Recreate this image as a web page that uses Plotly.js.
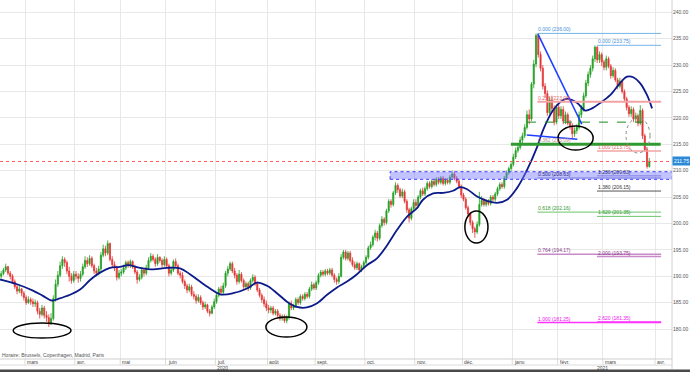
<!DOCTYPE html>
<html><head><meta charset="utf-8">
<script src="https://cdn.plot.ly/plotly-3.0.1.min.js"></script>
<style>html,body{margin:0;padding:0;background:#fff;}#chart{width:690px;height:372px;}</style>
</head><body><div id="chart"></div>
<script>
// ---- data (daily candles, trading-day index 0 = 14 Feb 2020) ----
const firstOpen = 190.0;
const closes = [
190.5,191.2,191.8,190.6,190.0,189.0,188.0,187.2,187.6,186.8,186.0,
185.0,185.6,185.2,184.8,185.0,183.4,182.8,184.0,182.6,182.2,181.0,182.0,185.8,188.5,190.2,192.0,193.2,192.6,191.0,190.0,189.2,190.4,
190.0,189.6,190.4,191.8,193.0,192.4,193.4,192.0,191.0,190.6,191.4,194.0,195.2,194.4,196.2,193.2,192.2,191.6,189.8,190.6,
190.8,191.6,192.6,192.0,192.8,191.8,190.8,189.4,189.8,191.2,190.6,191.6,193.0,193.8,193.2,192.4,193.6,193.0,192.2,193.2,
192.0,190.6,191.2,192.8,192.0,190.6,190.2,189.0,188.2,187.4,188.0,186.6,186.2,185.4,186.0,185.0,184.2,184.6,183.4,183.0,184.2,185.2,
186.4,187.6,187.0,188.2,190.6,191.4,192.4,191.0,190.2,189.0,190.4,189.2,188.0,188.6,187.8,189.2,189.8,188.6,187.4,186.4,185.6,184.8,184.0,
183.6,184.0,183.0,183.4,182.6,182.0,182.4,181.6,182.2,184.8,184.0,184.4,185.6,185.0,186.2,185.8,186.6,186.2,187.6,188.4,187.8,
188.8,190.2,190.8,190.4,191.0,190.6,191.2,190.2,189.4,189.0,190.0,193.6,194.6,193.4,194.4,193.0,192.2,191.6,192.4,191.2,191.8,192.6,
193.6,195.4,196.0,197.4,198.2,197.2,199.6,200.8,200.2,202.4,204.2,203.6,205.8,207.2,206.4,205.2,206.0,204.2,202.6,201.0,202.8,204.0,
203.4,205.0,206.2,205.6,206.6,207.6,207.0,208.0,207.4,208.4,207.8,208.6,207.6,208.2,207.8,208.8,209.4,208.6,208.0,207.0,205.4,
204.6,203.0,201.8,200.2,199.0,198.4,199.8,203.6,204.4,203.6,204.2,203.8,205.0,204.6,205.6,206.6,207.4,207.0,208.6,209.6,210.4,211.2,
212.6,213.8,214.4,215.8,216.6,218.2,220.6,219.8,226.4,230.2,235.6,232.0,229.4,226.0,224.6,221.0,223.4,221.8,219.2,222.0,
220.4,221.6,219.4,220.6,219.0,218.4,217.0,217.6,218.2,220.6,221.8,224.2,226.6,228.2,229.4,231.2,233.4,231.0,232.0,230.6,
229.6,231.2,229.8,228.0,229.0,227.2,226.0,227.0,225.0,223.6,222.0,220.8,221.6,219.8,220.4,219.0,221.4,216.6,214.0,210.8,211.75
];
const highs = [
191.0,191.6,192.4,192.0,191.0,190.4,189.4,188.4,188.2,187.8,187.2,
186.4,186.2,186.0,185.8,185.6,185.4,184.0,184.6,184.4,183.4,182.8,183.0,186.4,189.4,191.0,192.8,193.8,193.6,193.0,191.8,190.6,191.0,
191.0,190.6,191.0,192.4,193.8,193.6,194.0,193.8,192.4,191.6,192.0,194.6,196.0,195.8,196.8,196.4,193.8,192.8,192.0,191.2,
191.4,192.2,193.0,193.0,193.2,193.0,192.2,191.2,190.4,191.8,191.6,192.2,193.6,194.4,194.2,193.6,194.2,193.8,193.4,193.8,
193.6,192.4,191.8,193.2,193.4,192.4,191.0,190.8,189.4,188.6,188.6,188.4,187.2,186.6,186.6,186.4,185.4,185.2,184.8,183.8,184.6,185.8,
186.8,188.0,188.2,188.8,191.0,192.0,192.8,192.8,191.6,190.6,191.2,190.8,189.6,189.0,189.0,189.6,190.4,190.2,189.0,187.8,186.8,186.2,185.4,
184.6,184.4,184.4,183.8,183.8,183.0,182.8,182.8,182.6,185.2,185.4,184.8,186.0,186.0,186.6,186.6,187.0,187.0,188.0,189.0,188.8,
189.2,190.6,191.2,191.2,191.4,191.4,191.6,191.6,190.6,189.8,190.6,194.2,195.0,195.0,194.8,194.8,193.6,192.8,192.8,192.6,192.2,193.0,
194.0,195.8,196.6,197.8,198.8,198.6,200.0,201.4,201.2,202.8,204.6,204.6,206.2,207.8,207.6,206.8,206.6,206.4,204.6,203.0,203.2,204.6,
204.6,205.4,206.6,206.8,207.0,208.0,208.0,208.4,208.4,208.8,208.8,209.0,209.0,208.6,208.6,209.2,210.0,209.8,209.0,208.4,207.4,
205.8,205.0,203.4,202.2,200.6,199.4,200.4,206.0,205.2,204.8,204.6,204.6,205.4,205.4,206.0,207.0,207.8,207.8,209.0,210.0,210.8,211.6,
213.2,214.4,215.2,216.4,217.2,218.8,221.4,221.6,226.8,231.0,236.0,235.8,232.6,230.0,226.6,225.2,224.0,224.2,222.4,222.6,
222.6,222.2,222.2,221.2,221.0,219.6,219.0,218.2,218.8,221.2,222.4,224.8,227.2,228.8,230.0,231.8,233.75,233.6,232.6,232.4,
231.0,231.8,231.6,230.2,229.6,229.4,227.6,227.6,227.4,225.4,224.0,222.4,222.2,222.0,221.0,220.8,222.4,221.8,217.0,214.4,212.4
];
const lows = [
189.6,190.2,190.8,190.2,189.4,188.6,187.6,186.6,186.8,186.2,185.4,
184.6,184.8,184.6,184.2,184.2,182.8,182.0,182.4,182.0,181.4,180.4,180.8,181.6,185.2,188.0,189.8,191.4,191.8,190.4,189.0,188.6,188.8,
189.4,188.8,189.0,190.0,191.4,191.8,192.0,191.6,190.4,190.0,190.2,191.0,193.6,193.8,194.0,192.8,191.6,191.0,189.2,189.4,
190.0,190.4,191.2,191.6,191.6,191.4,190.4,188.6,189.0,189.4,190.0,190.2,191.2,192.6,192.8,191.8,192.0,192.6,191.6,191.8,
191.6,190.0,190.2,190.8,191.6,190.2,189.6,188.6,187.6,186.8,187.0,186.2,185.6,184.8,185.0,184.6,183.6,183.8,183.0,182.4,182.8,183.8,
184.8,186.0,186.4,186.6,187.8,190.0,191.0,190.6,189.6,188.4,188.6,188.8,187.4,187.6,187.2,187.4,188.8,188.2,187.0,186.0,185.0,184.2,183.4,
183.0,183.0,182.6,182.6,182.2,181.6,181.6,181.2,181.1,181.8,183.6,183.6,184.0,184.6,184.6,185.4,185.4,185.8,185.8,187.2,187.4,
187.4,188.4,189.8,190.0,190.0,190.2,190.2,189.8,188.8,188.4,188.6,189.8,193.2,193.0,193.0,192.6,191.8,191.2,191.2,190.8,190.8,191.4,
192.2,193.2,195.0,195.6,196.8,196.6,196.8,199.2,199.6,199.8,202.0,203.0,203.2,205.4,205.8,204.8,204.8,203.8,202.0,200.2,200.6,202.4,
202.8,203.0,204.6,205.2,205.2,206.2,206.6,206.6,207.0,207.0,207.4,207.4,207.2,207.2,207.4,207.4,208.4,208.2,207.6,206.6,204.8,
204.2,202.6,201.2,199.6,198.2,197.3,198.0,199.4,203.2,203.2,203.2,203.4,203.4,204.2,204.2,205.2,206.2,206.6,206.6,208.2,209.2,210.0,
210.8,212.2,213.4,214.0,215.2,216.2,217.8,218.8,219.4,225.6,229.6,231.4,228.8,225.4,223.8,220.4,220.6,221.2,218.6,218.8,
219.8,219.8,218.8,218.8,218.6,217.8,216.2,216.4,217.0,217.8,220.0,221.2,223.8,226.0,227.6,228.8,230.6,230.4,230.4,229.8,
229.0,229.0,229.4,227.4,227.6,226.8,225.4,225.6,224.6,223.0,221.4,220.2,220.2,219.2,219.2,218.4,218.6,216.0,213.6,210.4,210.6
];
const maIdx = [-0.5,7,14,18.4,22.4,25,30.4,34.8,39.2,43.6,48,52.4,56,61.2,67,73.2,78.9,83.3,87.7,92.1,96.6,102.3,108.5,112.9,117.3,121.7,126.1,130.5,134.9,139.4,143.8,148.2,152.6,157,161.4,165.8,170.3,174.7,179.1,183.5,186.1,190.6,195,199.4,202.5,205.6,210,214.4,218.8,223.2,227.6,232,236.5,239.1,243.6,248,250.2,254.2,257.7,260.7,264.2,268.7,273.1,276.2,278.9,281.9,285,287.2];
const maVals = [189.4,188.5,187.3,186.3,185.4,185.7,186.5,187.5,189.3,190.7,191.6,191.8,192.1,191.6,191.3,191.6,191.5,190.4,189.0,187.7,186.6,186.8,187.7,188.8,188.2,186.8,185.2,184.2,184.1,184.9,186.5,187.9,189.0,190.4,192.1,193.4,195.9,198.8,201.3,202.9,204.5,205.7,205.8,206.2,206.9,206.5,205.1,204.3,203.9,204.5,206.7,210.1,214.5,217.7,221.5,223.4,223.6,222.8,221.4,221.8,222.8,224.3,226.6,227.8,227.7,226.6,224.3,221.8];
const monthLabels = ['mars','avr.','mai','juin','juil.','août','sept.','oct.','nov.','déc.','janv.','févr.','mars','avr.'];
const monthStartIdx = [11,33,53,73,95,118,139,161,183,204,226,246,266,289];
const yearLabels = ['2020','2021'];
const yTicks = [180,185,190,195,200,205,210,215,220,225,230,235,240];
const lastPrice = 211.75;
const fibARatios = ['0.000','0.236','0.382','0.500','0.618','0.764','1.000'];
const fibALevels = [236.00,223.08,215.09,208.63,202.16,194.17,181.25];
const fibBRatios = ['0.000','1.000','1.236','1.380','1.620','2.000','2.620'];
const fibBLevels = [233.75,213.75,209.03,206.15,201.35,193.75,181.35];
const supportLevel = 215.0;
const neckLevel = 219.2;
const zoneLow = 208.37, zoneHigh = 209.81;
const noteText = 'Horaire: Brussels, Copenhagen, Madrid, Paris';

// ---- build ----
const x = closes.map((_, i) => i);
const opens = closes.map((c, i) => i === 0 ? firstOpen : closes[i - 1]);
const hi = highs.map((h, i) => Math.max(h, opens[i], closes[i]));
const lo = lows.map((l, i) => Math.min(l, opens[i], closes[i]));
const GREEN = '#22a022', RED = '#e53535';
const FONT = 'Liberation Sans, Arial, sans-serif';

const traces = [
  {type:'candlestick', x:x, open:opens, high:hi, low:lo, close:closes,
   increasing:{line:{color:GREEN,width:0.8}, fillcolor:GREEN},
   decreasing:{line:{color:RED,width:0.8}, fillcolor:RED},
   whiskerwidth:0, hoverinfo:'skip', showlegend:false},
  {type:'scatter', mode:'lines', x:maIdx, y:maVals,
   line:{color:'#0c1a8a', width:1.8, shape:'spline', smoothing:1}, hoverinfo:'skip', showlegend:false}
];

const shapes = [];
const annotations = [];
const X_END = 296;
shapes.push({type:'line', xref:'paper', x0:0, x1:1, yref:'y', y0:lastPrice, y1:lastPrice, line:{color:'#ff5a5a', width:1, dash:'dot'}});
shapes.push({type:'rect', xref:'x', x0:171.6, x1:X_END, yref:'y', y0:zoneLow, y1:zoneHigh, fillcolor:'rgba(120,120,255,0.45)', line:{color:'#3a3aff', width:1, dash:'dot'}});
const fibALine = ['#74b6ea','#f3a3a3','#e8b0b0','#8080e0','#6cc46c','#c88ac8','#ff33ff'];
const fibAText = ['#3f93da','#e06a6a','#c09090','#2a2a80','#2f9a2f','#8a3a8a','#ee11ee'];
const fibAWidth = [1,2,1,1,1,1.5,1.5];
fibALevels.forEach((lv, i) => {
  shapes.push({type:'line', xref:'x', x0:236.6, x1:291.2, yref:'y', y0:lv, y1:lv, line:{color:fibALine[i], width:fibAWidth[i]}});
  annotations.push({xref:'x', x:236.6, yref:'y', y:lv, xanchor:'left', yanchor:'bottom', showarrow:false, borderpad:0,
    text:fibARatios[i] + ' (' + lv.toFixed(2) + ')', font:{size:5, color:fibAText[i], family:FONT}});
});
const fibBLine = ['#74b6ea','#f3a3a3','#8080e0','#555555','#6cc46c','#c88ac8','#ff33ff'];
const fibBText = ['#3f93da','#e06a6a','#333366','#333333','#2f9a2f','#8a3a8a','#ee11ee'];
const fibBWidth = [1,1.5,1,1,1,1.5,1.5];
fibBLevels.forEach((lv, i) => {
  shapes.push({type:'line', xref:'x', x0:262.9, x1:291.2, yref:'y', y0:lv, y1:lv, line:{color:fibBLine[i], width:fibBWidth[i]}});
  annotations.push({xref:'x', x:262.9, yref:'y', y:lv, xanchor:'left', yanchor:'bottom', showarrow:false, borderpad:0,
    text:fibBRatios[i] + ' (' + lv.toFixed(2) + ')', font:{size:5, color:fibBText[i], family:FONT}});
});
shapes.push({type:'line', xref:'x', x0:224.9, x1:291.0, yref:'y', y0:supportLevel, y1:supportLevel, line:{color:'#2f9a2f', width:3}});
shapes.push({type:'line', xref:'x', x0:232.0, x1:283.3, yref:'y', y0:neckLevel, y1:neckLevel, line:{color:'#1d8a1d', width:1, dash:'dash'}});
shapes.push({type:'line', xref:'x', yref:'y', x0:236.8, y0:235.9, x1:256.2, y1:218.8, line:{color:'#1f3fff', width:1.6}});
shapes.push({type:'line', xref:'x', yref:'y', x0:231.9, y0:216.76, x1:254.2, y1:215.95, line:{color:'#1f3fff', width:1.6}});
[[5.3,30.8,178.3,181.15],[116.8,134.9,178.5,182.3],[204.6,214.8,196.3,202.35],[245.7,261.2,213.92,218.46]].forEach(e => {
  shapes.push({type:'circle', xref:'x', yref:'y', x0:e[0], x1:e[1], y0:e[2], y1:e[3], line:{color:'#000', width:1.5}});
});
shapes.push({type:'circle', xref:'x', yref:'y', x0:275.7, x1:286.3, y0:213.35, y1:219.97, line:{color:'#888', width:1, dash:'dot'}});

const pb = 359;
const py = px => -(px - pb) / pb;
monthStartIdx.forEach((m, i) => {
  shapes.push({type:'line', xref:'x', x0:m-0.5, x1:m-0.5, yref:'paper', y0:py(365), y1:0, line:{color:'#dcdcdc', width:1}});
  annotations.push({xref:'x', x:m-0.5, yref:'paper', y:py(362), xanchor:'left', yanchor:'middle', xshift:1, showarrow:false, borderpad:0,
    text:monthLabels[i], font:{size:5, color:'#444', family:FONT}});
});
shapes.push({type:'line', xref:'paper', x0:0, x1:1, yref:'paper', y0:0, y1:0, line:{color:'#cfcfcf', width:1}});
shapes.push({type:'line', xref:'paper', x0:0, x1:1, yref:'paper', y0:py(365), y1:py(365), line:{color:'#dcdcdc', width:1}});
shapes.push({type:'line', xref:'paper', x0:1, x1:1, yref:'paper', y0:py(369), y1:1, line:{color:'#d0d0d0', width:1}});
shapes.push({type:'rect', xref:'paper', x0:-0.01, x1:1.04, yref:'paper', y0:py(369.5), y1:py(373), fillcolor:'#4a4a4a', line:{width:0}});
annotations.push({xref:'paper', x:222/672, yref:'paper', y:py(367.5), xanchor:'center', yanchor:'middle', showarrow:false, borderpad:0, text:yearLabels[0], font:{size:5, color:'#444', family:FONT}});
annotations.push({xref:'paper', x:602/672, yref:'paper', y:py(367.5), xanchor:'center', yanchor:'middle', showarrow:false, borderpad:0, text:yearLabels[1], font:{size:5, color:'#444', family:FONT}});
annotations.push({xref:'paper', x:1/672, yref:'paper', y:py(354.5), xanchor:'left', yanchor:'middle', showarrow:false, borderpad:0, text:noteText, font:{size:5, color:'#555', family:FONT}});
annotations.push({xref:'paper', x:1, yref:'y', y:lastPrice, xanchor:'left', yanchor:'middle', showarrow:false, borderpad:1, bgcolor:'#2a8ad8',
  text:lastPrice.toFixed(2), font:{size:5, color:'#fff', family:FONT}});

const layout = {
  width:690, height:372, margin:{l:0, r:18, t:0, b:13, autoexpand:false},
  paper_bgcolor:'#fff', plot_bgcolor:'#fff', showlegend:false, dragmode:false,
  xaxis:{range:[-0.53, X_END], tickvals:monthStartIdx.map(m => m - 0.5), showticklabels:false, ticks:'',
    showgrid:true, gridcolor:'#e8e8e8', gridwidth:1, zeroline:false, showline:false, rangeslider:{visible:false}, fixedrange:true},
  yaxis:{side:'right', range:[174.34, 242.33], tickvals:yTicks, ticktext:yTicks.map(v => v.toFixed(2)), ticks:'',
    tickfont:{size:5, color:'#555', family:FONT}, showgrid:true, gridcolor:'#e8e8e8', gridwidth:1, zeroline:false, showline:false,
    automargin:false, fixedrange:true},
  shapes:shapes, annotations:annotations
};
Plotly.newPlot('chart', traces, layout, {displayModeBar:false, staticPlot:true});
</script></body></html>
